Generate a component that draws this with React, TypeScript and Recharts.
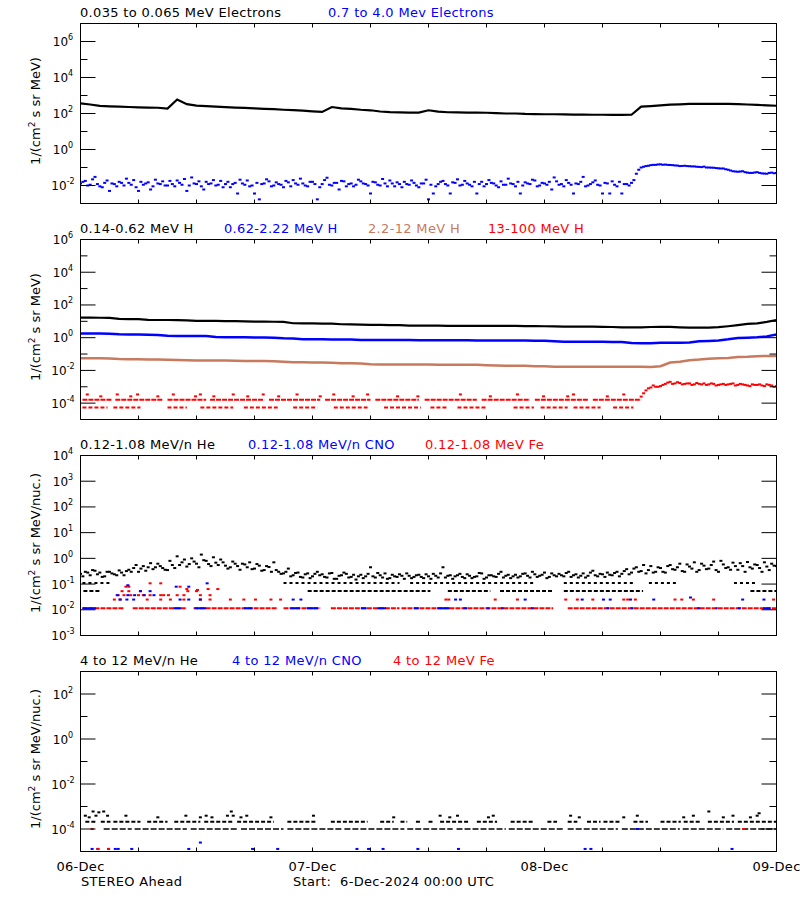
import { ComposedChart, Line, Scatter, XAxis, YAxis } from "recharts"

const FONT = "'DejaVu Sans', sans-serif"
const BLACK = "#000000"
const BLUE = "#0000ff"
const RED = "#ff0000"
const SIENNA = "#c87a5e"

// time axis in hours after 6-Dec-2024 00:00 UTC
const hourTicks = [0, 6, 12, 18, 24, 30, 36, 42, 48, 54, 60, 66, 72]
const dateLabels = ["06-Dec", "07-Dec", "08-Dec", "09-Dec"]

// ---- panel 1: electrons ----
// 0.035-0.065 MeV, hourly
const eLow = [
  363, 316, 263, 251, 240, 229, 219, 214, 209, 186,
  603, 331, 275, 257, 240, 224, 214, 204, 195, 182,
  174, 162, 155, 145, 132, 123, 229, 195, 182, 162,
  151, 129, 120, 115, 112, 112, 151, 126, 117, 115,
  112, 112, 110, 105, 100, 100, 95, 93, 91, 91,
  89, 87, 87, 85, 85, 83, 83, 85, 240, 257,
  282, 309, 324, 339, 339, 339, 339, 339, 331, 316,
  302, 282, 269,
]
// 0.7-4.0 MeV, every 30 min from 00:00
const eHigh = [
  0.013, 0.018, 0.011, 0.03, 0.009, 0.014, 0.005, 0.012, 0.016, 0.01,
  0.014, 0.02, 0.005, 0.011, 0.015, 0.009, 0.013, 0.017, 0.01, 0.012,
  0.019, 0.011, 0.005, 0.028, 0.012, 0.009, 0.016, 0.013, 0.01, 0.018,
  0.012, 0.008, 0.014, 0.021, 0.011, 0.009, 0.0036, 0.0017, 0.013, 0.017,
  0.01, 0.012, 0.008, 0.015, 0.02, 0.011, 0.013, 0.009, 0.016, 0.0017,
  0.012, 0.027, 0.01, 0.014, 0.018, 0.009, 0.013, 0.011, 0.017, 0.012,
  0.0036, 0.015, 0.01, 0.013, 0.019, 0.009, 0.012, 0.016, 0.011, 0.014,
  0.008, 0.013, 0.0017, 0.0036, 0.012, 0.018, 0.01, 0.015, 0.022, 0.011,
  0.013, 0.009, 0.0036, 0.016, 0.012, 0.014, 0.01, 0.017, 0.011, 0.013,
  0.009, 0.0036, 0.015, 0.012, 0.019, 0.01, 0.013, 0.016, 0.028, 0.011,
  0.009, 0.014, 0.0036, 0.012, 0.03, 0.01, 0.015, 0.011, 0.0036, 0.013,
  0.017, 0.009, 0.0036, 0.012,
  0.014, 0.045, 0.1, 0.12, 0.135, 0.14, 0.15, 0.145, 0.138, 0.13,
  0.12, 0.125, 0.118, 0.115, 0.108, 0.112, 0.1, 0.097, 0.09, 0.088,
  0.075, 0.062, 0.058, 0.062, 0.052, 0.05, 0.055, 0.047, 0.045, 0.052,
  0.05,
]
// 0.7-4.0 MeV, every 30 min from 00:15
const eHigh2 = [
  0.016, 0.01, 0.022, 0.012, 0.008, 0.019, 0.013, 0.009, 0.014, 0.024,
  0.011, 0.008, 0.016, 0.013, 0.006, 0.021, 0.012, 0.01, 0.018, 0.009,
  0.014, 0.023, 0.01, 0.013, 0.017, 0.006, 0.012, 0.02, 0.011, 0.008,
  0.016, 0.012, 0.0036, 0.013, 0.019, 0.01, 0.014, 0.012, 0.022, 0.009,
  0.015, 0.011, 0.018, 0.009, 0.013, 0.024, 0.01, 0.016, 0.012, 0.008,
  0.02, 0.011, 0.014, 0.006, 0.017, 0.012, 0.009, 0.021, 0.013, 0.01,
  0.016, 0.011, 0.023, 0.009, 0.013, 0.015, 0.008, 0.012, 0.019, 0.01,
  0.013, 0.021, 0.011, 0.009, 0.016, 0.012, 0.0036, 0.014, 0.01, 0.018,
  0.011, 0.016, 0.012, 0.009, 0.02, 0.013, 0.008, 0.011, 0.024, 0.012,
  0.016, 0.01, 0.013, 0.021, 0.009, 0.014, 0.011, 0.006, 0.017, 0.012,
  0.02, 0.011, 0.013, 0.016, 0.009, 0.012, 0.019, 0.01, 0.014, 0.0036,
  0.011, 0.016, 0.012, 0.01,
  0.02, 0.075, 0.11, 0.125, 0.14, 0.148, 0.142, 0.14, 0.135, 0.128,
  0.122, 0.12, 0.115, 0.11, 0.105, 0.1, 0.098, 0.093, 0.088, 0.08,
  0.068, 0.06, 0.06, 0.055, 0.05, 0.053, 0.05, 0.046, 0.05, 0.048,
]

// ---- panel 2: protons ----
const hLow = [
  16.7, 16.7, 16.5, 16.2, 14, 13.8, 13.5, 12.2, 12, 12,
  11.8, 11.5, 10.6, 10.5, 10.5, 10.3, 10.2, 9.8, 9.5, 9.5,
  9.4, 9.2, 7.6, 7.5, 7.4, 7.3, 7.2, 6.6, 6.5, 6.2,
  6.0, 6.0, 5.9, 5.8, 5.5, 5.4, 5.4, 5.4, 5.3, 5.3,
  5.3, 5.3, 5.2, 5.2, 5.2, 5.2, 5.1, 5.1, 5.0, 4.9,
  4.8, 4.7, 4.7, 4.7, 4.6, 4.5, 4.3, 4.3, 4.3, 4.5,
  4.6, 4.6, 4.3, 4.1, 4.1, 4.1, 4.4, 5.0, 5.8, 6.9,
  7.5, 9.2, 12,
]
const hMid = [
  1.8, 1.8, 1.8, 1.75, 1.6, 1.55, 1.55, 1.5, 1.45, 1.3,
  1.27, 1.27, 1.25, 1.25, 1.1, 1.05, 1.05, 1.05, 1.03, 1.02,
  1.0, 0.92, 0.9, 0.8, 0.8, 0.79, 0.78, 0.78, 0.77, 0.73,
  0.72, 0.72, 0.72, 0.72, 0.71, 0.7, 0.69, 0.69, 0.69, 0.69,
  0.69, 0.68, 0.68, 0.68, 0.68, 0.67, 0.67, 0.66, 0.65, 0.6,
  0.57, 0.57, 0.57, 0.56, 0.56, 0.55, 0.55, 0.47, 0.45, 0.46,
  0.49, 0.49, 0.49, 0.5, 0.6, 0.63, 0.68, 0.79, 0.95, 1.0,
  1.05, 1.2, 1.55,
]
const hHigh = [
  0.056, 0.055, 0.055, 0.054, 0.05, 0.048, 0.048, 0.047, 0.047, 0.045,
  0.043, 0.042, 0.041, 0.041, 0.04, 0.04, 0.039, 0.037, 0.037, 0.037,
  0.036, 0.034, 0.031, 0.031, 0.03, 0.03, 0.029, 0.027, 0.027, 0.026,
  0.024, 0.023, 0.023, 0.023, 0.023, 0.023, 0.023, 0.022, 0.022, 0.022,
  0.022, 0.022, 0.021, 0.02, 0.019, 0.019, 0.019, 0.018, 0.018, 0.017,
  0.017, 0.017, 0.017, 0.017, 0.017, 0.017, 0.017, 0.017, 0.017, 0.016,
  0.018, 0.03, 0.034, 0.042, 0.046, 0.052, 0.055, 0.058, 0.065, 0.068,
  0.074, 0.076, 0.076,
]
// 13-100 MeV: quantized count levels before the rise, then 30-min values
const hVhMidLevel = 1.6e-4
const hVhMidSegs = [[0.2, 3.2], [3.6, 8.5], [9, 13], [13.4, 19], [19.5, 24.8], [25.3, 30], [30.5, 35], [35.6, 41], [41.5, 46.5], [47, 52.5], [53, 58]]
const hVhLowLevel = 5.5e-5
const hVhLowSegs = [[0.2, 2.8], [3.4, 6.2], [9, 11], [12.4, 15.8], [16.9, 20.4], [22, 24.5], [26.2, 29.7], [31.4, 35.2], [36.2, 38], [39, 42.1], [44.8, 46.9], [47.6, 50.4], [51, 53.8], [55.1, 57.2]]
const hVhUpper = [
  [0.7, 3.4e-4], [2.1, 2.6e-4], [3.8, 3.4e-4], [5.2, 2.6e-4], [5.9, 3.4e-4], [8, 2.6e-4], [9.6, 3.4e-4], [11.9, 2.6e-4],
  [12.4, 3.4e-4], [13.8, 2.6e-4], [15.8, 3.4e-4], [17.3, 2.6e-4], [18.9, 3.4e-4], [20.5, 2.6e-4], [22.4, 3.4e-4], [24.8, 2.6e-4],
  [26.2, 3.4e-4], [28.2, 2.6e-4], [29.7, 3.4e-4], [32.8, 2.6e-4], [34.9, 2.6e-4], [39.3, 3.4e-4], [42.4, 2.6e-4], [45.2, 3.4e-4],
  [47.9, 2.6e-4], [50.4, 2.6e-4], [51, 3.4e-4], [54.5, 2.6e-4], [56.2, 3.4e-4],
]
const hVhPost = [
  2.5e-4, 6e-4, 9e-4, 1.0e-3, 1.1e-3, 1.5e-3, 2.0e-3, 1.6e-3, 1.7e-3, 1.5e-3,
  1.6e-3, 1.4e-3, 1.5e-3, 1.6e-3, 1.4e-3, 1.5e-3, 1.3e-3, 1.5e-3, 1.4e-3, 1.6e-3,
  1.3e-3, 1.4e-3, 1.2e-3, 1.4e-3, 1.3e-3, 1.2e-3, 1.4e-3, 1.2e-3, 1.1e-3,
]
const hVhPost2 = [
  4e-4, 8e-4, 1.2e-3, 1.0e-3, 1.3e-3, 1.8e-3, 1.5e-3, 1.9e-3, 1.4e-3, 1.6e-3,
  1.3e-3, 1.7e-3, 1.4e-3, 1.3e-3, 1.6e-3, 1.2e-3, 1.4e-3, 1.3e-3, 1.5e-3, 1.2e-3,
  1.5e-3, 1.3e-3, 1.1e-3, 1.3e-3, 1.4e-3, 1.1e-3, 1.3e-3, 1.0e-3,
]

// ---- panel 3: 0.12-1.08 MeV/n heavy ions ----
const heBand = [
  0.25, 0.3, 0.22, 0.33, 0.28, 0.2, 0.3, 0.24, 0.34, 0.22,
  0.36, 0.42, 0.3, 0.5, 0.45, 0.38, 0.62, 0.42, 0.35, 0.55,
  1.2, 0.7, 0.48, 1.0, 0.62, 1.4, 0.8, 0.5, 0.68, 0.9,
  0.52, 0.45, 0.62, 0.36, 0.58, 0.7, 0.4, 0.52, 0.35, 0.46,
  0.7, 0.3, 0.26, 0.4, 0.22, 0.28, 0.18, 0.26, 0.2, 0.3,
  0.24, 0.18, 0.27, 0.16, 0.22, 0.25, 0.19, 0.15, 0.23, 0.2,
  0.45, 0.18, 0.22, 0.26, 0.17, 0.2, 0.24, 0.16, 0.21, 0.19,
  0.23, 0.17, 0.2, 0.25, 0.18, 0.45, 0.21, 0.16, 0.22, 0.19,
  0.24, 0.17, 0.2, 0.26, 0.18, 0.22, 0.19, 0.3, 0.21, 0.17,
  0.23, 0.2, 0.26, 0.18, 0.24, 0.21, 0.28, 0.19, 0.22, 0.25,
  0.2, 0.3, 0.22, 0.18, 0.26, 0.21, 0.33, 0.2, 0.24, 0.28,
  0.22, 0.3, 0.25, 0.38, 0.28, 0.45, 0.32, 0.26, 0.5, 0.3,
  0.42, 0.28, 0.55, 0.36, 0.62, 0.3, 0.48, 0.7, 0.35, 0.52,
  0.4, 0.75, 0.3, 0.58, 0.45, 0.68, 0.36, 0.5, 0.72, 0.4,
  0.55, 0.3, 0.48, 0.62, 0.5,
]
const heBand2 = [
  0.2, 0.28, 0.35, 0.24, 0.19, 0.3, 0.26, 0.22, 0.28, 0.32,
  0.3, 0.55, 0.4, 0.33, 0.65, 0.45, 0.5, 0.36, 0.8, 0.42,
  0.55, 0.9, 0.6, 0.75, 0.45, 0.85, 0.6, 1.1, 0.55, 0.7,
  0.4, 0.75, 0.5, 0.62, 0.45, 0.38, 0.6, 0.33, 0.5, 0.3,
  0.35, 0.25, 0.3, 0.2, 0.27, 0.19, 0.24, 0.17, 0.25, 0.22,
  0.19, 0.26, 0.16, 0.21, 0.28, 0.18, 0.23, 0.2, 0.17, 0.25,
  0.2, 0.27, 0.18, 0.16, 0.23, 0.19, 0.21, 0.26, 0.17, 0.22,
  0.19, 0.24, 0.16, 0.21, 0.26, 0.18, 0.22, 0.2, 0.25, 0.17,
  0.21, 0.19, 0.27, 0.16, 0.22, 0.2, 0.25, 0.18, 0.23, 0.2,
  0.18, 0.25, 0.21, 0.3, 0.19, 0.23, 0.17, 0.26, 0.2, 0.22,
  0.27, 0.19, 0.24, 0.21, 0.18, 0.28, 0.22, 0.25, 0.19, 0.23,
  0.27, 0.2, 0.32, 0.24, 0.4, 0.3, 0.55, 0.35, 0.28, 0.45,
  0.3, 0.5, 0.38, 0.45, 0.32, 0.58, 0.4, 0.3, 0.62, 0.38,
  0.55, 0.35, 0.8, 0.42, 0.36, 0.5, 0.65, 0.3, 0.45, 0.58,
  0.42, 0.7, 0.35, 0.52,
]
const heLevelA = 0.11
const heSegsA = [[0.2, 3.1], [21, 33], [34.1, 46.9], [50, 57.2], [58.8, 61.7], [67.6, 70]]
const heLevelB = 0.054
const heSegsB = [[0.3, 2.1], [23.5, 36.2], [38, 42.4], [43.4, 48.9], [50, 58.2], [69.3, 72]]
const ionFloor = 0.0115
const feFloorSegs = [[0.2, 4.5], [5.4, 11], [11.7, 20.4], [21, 24.8], [25.9, 33], [33.2, 48.9], [50.4, 72]]
const cnoFloorSegs = [
  [0.2, 1.6], [9.6, 10.4], [11.8, 13], [16.9, 17.8], [21.7, 22.7], [23.4, 24.6], [29, 29.6], [30.7, 31.6], [34.5, 35], [36.9, 38.2],
  [39.6, 40], [42, 42.3], [43.5, 43.8], [46.6, 46.9], [54.4, 54.7], [56.9, 57.2], [63.8, 64.1], [65.7, 65.9], [68, 68.3], [70.6, 71.4],
]
const feLowPts = [
  [3.5, 0.025], [4.1, 0.025], [6.9, 0.025], [8.3, 0.025], [9.3, 0.025], [10.7, 0.025], [12.4, 0.025], [13.4, 0.025], [15.5, 0.025],
  [16.9, 0.025], [18.1, 0.025], [19.7, 0.025], [20.7, 0.025], [37.8, 0.025], [38.1, 0.025], [42.9, 0.025], [45.2, 0.025], [50.2, 0.025],
  [51.4, 0.025], [53, 0.025], [56.2, 0.025], [56.6, 0.025], [57.4, 0.025], [61.5, 0.025], [62.2, 0.025], [63.4, 0.025], [65.5, 0.025],
  [71.7, 0.025], [3.9, 0.037], [4.5, 0.037], [5.2, 0.037], [6, 0.037], [6.5, 0.037], [7.2, 0.037], [8.3, 0.037], [8.6, 0.037],
  [9.1, 0.037], [10, 0.037], [10.7, 0.037], [12.4, 0.037], [13.4, 0.037], [4.3, 0.053], [5, 0.053], [6.2, 0.053], [11.1, 0.053],
  [12, 0.053], [7.2, 0.107], [8.3, 0.107], [10.3, 0.079], [11, 0.064], [12.1, 0.059], [13.2, 0.064], [14.2, 0.064], [4.7, 0.079], [5, 0.079],
]
const cnoLowPts = [
  [4.1, 0.025], [4.8, 0.025], [5.5, 0.025], [10.3, 0.025], [11.2, 0.025], [12.4, 0.025], [22, 0.025], [22.8, 0.025], [38.8, 0.025],
  [39.3, 0.025], [46, 0.025], [51.9, 0.025], [54.1, 0.025], [54.8, 0.025], [56.9, 0.025], [59.3, 0.025], [63.1, 0.03], [68.5, 0.025],
  [70.7, 0.025], [3.8, 0.037], [4.9, 0.037], [5.6, 0.037], [6.6, 0.037], [7.6, 0.037], [6.2, 0.053], [7.2, 0.053],
  [4.9, 0.09], [9.9, 0.079], [11.2, 0.079], [13.1, 0.107],
]

// ---- panel 4: 4-12 MeV/n heavy ions ----
const he4LevelA = 1e-4
const he4SegsA = [[2.4, 5.3], [5.6, 11], [11.4, 16.3], [16.6, 21], [21.4, 27], [27.3, 33.5], [33.8, 38.5], [38.9, 44], [44.3, 50], [50.4, 55.6], [56, 62], [62.3, 66.5], [66.8, 72]]
const he4LevelB = 2.1e-4
const he4SegsB = [
  [0.5, 1.7], [2.1, 3.1], [3.4, 6.2], [6.9, 9], [9.7, 12.4], [12.8, 15.9], [16.2, 20], [21.4, 24.5], [25.9, 29.7], [31, 32.4],
  [33.1, 33.8], [34.7, 35.2], [36, 36.5], [37.2, 40.3], [41, 43.1], [44.5, 46.9], [48.3, 49.3], [50.4, 51.4], [52.4, 53.8],
  [54.1, 55.9], [57.2, 58.7], [60, 62.1], [62.4, 64.1], [64.9, 67.6], [68, 72],
]
const he4Pts = [
  [0.5, 3.9e-4], [0.9, 3.3e-4], [1.3, 6e-4], [1.6, 3.9e-4], [1.9, 5.5e-4], [2.4, 6e-4], [2.8, 3.9e-4], [4.7, 3.9e-4], [8, 3.3e-4],
  [10.9, 3.9e-4], [12.4, 3.3e-4], [13, 3.9e-4], [13.6, 3.3e-4], [15.2, 3.9e-4], [15.6, 6e-4], [15.8, 3.9e-4], [16.6, 3.3e-4],
  [17.2, 3.9e-4], [19.7, 3.3e-4], [24.1, 3.9e-4], [32.4, 3.3e-4], [37.2, 3.9e-4], [38.2, 3.3e-4], [39, 3.9e-4], [42.2, 3.3e-4],
  [42.7, 3.9e-4], [50.7, 3.9e-4], [51.6, 3.3e-4], [56.2, 3.3e-4], [57.6, 3.9e-4], [62.4, 3.3e-4], [63.4, 3.9e-4], [65, 6e-4],
  [66.5, 3.3e-4], [67.5, 3.9e-4], [69.3, 3.3e-4], [70, 3.9e-4], [70.2, 5e-4],
]
const cno4Pts = [
  [1.2, 1.3e-5], [1.8, 1.3e-5], [2.9, 1.3e-5], [3.6, 1.3e-5], [3.9, 1.3e-5], [5.3, 1.3e-5], [11.2, 1.3e-5], [12.4, 2.5e-5],
  [17.8, 1.3e-5], [20.4, 1.3e-5], [28.6, 1.3e-5], [29.8, 1.3e-5], [31.3, 1.3e-5], [34.9, 1.3e-5], [39.1, 1.3e-5], [52.2, 1.3e-5],
  [52.8, 1.3e-5], [57.6, 1e-4], [67.4, 1.3e-5],
]
const fe4Pts = [[1.2, 1e-4], [1.8, 1.3e-5], [2.9, 1.3e-5], [68.6, 1e-4]]

// ---- text ----
const panelTitles = [
  [["0.035 to 0.065 MeV Electrons", BLACK, 80], ["0.7 to 4.0 Mev Electrons", BLUE, 328]],
  [["0.14-0.62 MeV H", BLACK, 80], ["0.62-2.22 MeV H", BLUE, 224], ["2.2-12 MeV H", SIENNA, 368], ["13-100 MeV H", RED, 488]],
  [["0.12-1.08 MeV/n He", BLACK, 80], ["0.12-1.08 MeV/n CNO", BLUE, 248], ["0.12-1.08 MeV Fe", RED, 425]],
  [["4 to 12 MeV/n He", BLACK, 80], ["4 to 12 MeV/n CNO", BLUE, 232], ["4 to 12 MeV Fe", RED, 393]],
] as [string, string, number][][]
const yUnits = ["MeV)", "MeV)", "MeV/nuc.)", "MeV/nuc.)"]

// layout
const PANEL_TOPS = [23, 239, 455, 671]
const PLOT_H = 180
const PAD = 14
const PLOT_LEFT = 80.5
const PLOT_RIGHT = 776.5

function series(values: number[], step: number, start = 0) {
  return values.map((v, i) => ({ t: start + i * step, v })).filter((d) => d.v != null)
}
function segments(segs: number[][], level: number) {
  const out: { t: number; v: number | null }[] = []
  segs.forEach(([a, b]) => {
    out.push({ t: a, v: level }, { t: b, v: level }, { t: b, v: null })
  })
  return out
}
function points(pairs: number[][]) {
  return pairs.map(([t, v]) => ({ t, v }))
}

const dot = (color: string, w = 3, h = 2) => (p: any) =>
  p.cx == null ? <g /> : <rect x={p.cx - w / 2} y={p.cy - h / 2} width={w} height={h} fill={color} />

const curve = (key: string, data: any[], color: string, width = 2.5, dash?: string) => (
  <Line key={key} data={data} dataKey="v" stroke={color} strokeWidth={width} strokeDasharray={dash} dot={false}
    activeDot={false} isAnimationActive={false} connectNulls={false} />
)
const cloud = (key: string, data: any[], color: string, w = 3, h = 2) => (
  <Scatter key={key} data={data} dataKey="v" shape={dot(color, w, h)} isAnimationActive={false} />
)

function Panel({ top, expMin, expMax, labelAll = false, dates = false, children }: any) {
  const bottomPad = dates ? 30 : 12
  const height = PAD + PLOT_H + bottomPad
  const plotTop = PAD + 0.5
  const plotBottom = plotTop + PLOT_H
  const yTicks: number[] = []
  for (let e = expMin; e <= expMax; e++) yTicks.push(Math.pow(10, e))
  const domain = [Math.pow(10, expMin), Math.pow(10, expMax)]

  const leftTick = (p: any) => {
    const e = Math.round(Math.log10(p.payload.value))
    const major = labelAll || e % 2 === 0
    return (
      <g>
        <line x1={PLOT_LEFT} x2={PLOT_LEFT + (major ? 15 : 7)} y1={p.y} y2={p.y} stroke={BLACK} />
        {major && (
          <text x={63} y={p.y + 4.5} textAnchor="middle" fontFamily={FONT} fontSize={12} fill={BLACK}>
            10<tspan dy={-6} fontSize={8}>{String(e)}</tspan>
          </text>
        )}
      </g>
    )
  }
  const rightTick = (p: any) => {
    const e = Math.round(Math.log10(p.payload.value))
    const major = labelAll || e % 2 === 0
    return <line x1={PLOT_RIGHT} x2={PLOT_RIGHT - (major ? 15 : 7)} y1={p.y} y2={p.y} stroke={BLACK} />
  }
  const bottomTick = (p: any) => {
    const v = p.payload.value
    return (
      <g>
        <line x1={p.x} x2={p.x} y1={plotBottom} y2={plotBottom - 4} stroke={BLACK} />
        {dates && v % 24 === 0 && (
          <text x={p.x} y={plotBottom + 19} textAnchor="middle" fontFamily={FONT} fontSize={13} fill={BLACK}
            letterSpacing={0.3}>
            {dateLabels[v / 24]}
          </text>
        )}
      </g>
    )
  }
  const topTick = (p: any) => <line x1={p.x} x2={p.x} y1={plotTop} y2={plotTop + 4} stroke={BLACK} />

  return (
    <div style={{ position: "absolute", left: 0, top: top - PAD }}>
      <ComposedChart width={800} height={height} margin={{ top: 0.5, right: 0, bottom: 0, left: PLOT_LEFT - 60 }}>
        <XAxis dataKey="t" type="number" domain={[0, 72]} allowDataOverflow ticks={hourTicks} interval={0}
          height={bottomPad - 0.5} tickLine={false} axisLine={{ stroke: BLACK }} tick={bottomTick} />
        <XAxis xAxisId="top" orientation="top" dataKey="t" type="number" domain={[0, 72]} allowDataOverflow
          ticks={hourTicks} interval={0} height={PAD} tickLine={false} axisLine={{ stroke: BLACK }} tick={topTick} />
        <YAxis scale="log" type="number" domain={domain} allowDataOverflow ticks={yTicks} interval={0} width={60}
          tickLine={false} axisLine={{ stroke: BLACK }} tick={leftTick} />
        <YAxis yAxisId="right" orientation="right" scale="log" type="number" domain={domain} allowDataOverflow
          ticks={yTicks} interval={0} width={800 - PLOT_RIGHT} tickLine={false} axisLine={{ stroke: BLACK }}
          tick={rightTick} />
        {children}
      </ComposedChart>
    </div>
  )
}

export default function App() {
  return (
    <div style={{ position: "absolute", left: 0, top: 0, width: 800, height: 900, background: "#fff" }}>
      <Panel top={PANEL_TOPS[0]} expMin={-3} expMax={7}>
        {curve("eLow", series(eLow, 1), BLACK, 2.2)}
        {cloud("eHigh", series(eHigh, 0.5), BLUE)}
        {cloud("eHigh2", series(eHigh2, 0.5, 0.25), BLUE)}
      </Panel>
      <Panel top={PANEL_TOPS[1]} expMin={-5} expMax={6}>
        {curve("hLow", series(hLow, 1), BLACK, 2.2)}
        {curve("hMid", series(hMid, 1), BLUE, 2.5)}
        {curve("hHigh", series(hHigh, 1), SIENNA, 2.5)}
        {curve("hVhMid", segments(hVhMidSegs, hVhMidLevel), RED, 2, "5 1")}
        {curve("hVhLow", segments(hVhLowSegs, hVhLowLevel), RED, 2, "4 2")}
        {cloud("hVhUp", points(hVhUpper), RED)}
        {cloud("hVhPost", series(hVhPost, 0.5, 58), RED)}
        {cloud("hVhPost2", series(hVhPost2, 0.5, 58.25), RED)}
      </Panel>
      <Panel top={PANEL_TOPS[2]} expMin={-3} expMax={4} labelAll>
        {cloud("heBand", series(heBand, 0.5), BLACK)}
        {cloud("heBand2", series(heBand2, 0.5, 0.25), BLACK)}
        {curve("heA", segments(heSegsA, heLevelA), BLACK, 2, "3 3")}
        {curve("heB", segments(heSegsB, heLevelB), BLACK, 2, "4 2")}
        {curve("feFloor", segments(feFloorSegs, ionFloor), RED, 2, "5 1")}
        {curve("cnoFloor", segments(cnoFloorSegs, ionFloor), BLUE, 2)}
        {cloud("feLow", points(feLowPts), RED)}
        {cloud("cnoLow", points(cnoLowPts), BLUE)}
      </Panel>
      <Panel top={PANEL_TOPS[3]} expMin={-5} expMax={3} dates>
        {curve("he4A", segments(he4SegsA, he4LevelA), BLACK, 1.5, "6 2")}
        {curve("he4B", segments(he4SegsB, he4LevelB), BLACK, 2, "4 2")}
        {cloud("he4", points(he4Pts), BLACK)}
        {cloud("cno4", points(cno4Pts), BLUE)}
        {cloud("fe4", points(fe4Pts), RED)}
      </Panel>

      <svg width={800} height={900} style={{ position: "absolute", left: 0, top: 0, pointerEvents: "none" }}
        fontFamily={FONT} fontSize={13}>
        {panelTitles.map((items, i) =>
          items.map(([label, color, x], j) => (
            <text key={`${i}-${j}`} x={x} y={PANEL_TOPS[i] - 6} fill={color} letterSpacing={0.33}>{label}</text>
          ))
        )}
        {yUnits.map((u, i) => (
          <text key={`y${i}`} transform={`translate(40, ${PANEL_TOPS[i] + 88}) rotate(-90)`} textAnchor="middle"
            fill={BLACK} style={{ whiteSpace: "pre" }}>
            1/(cm<tspan dy={-5} fontSize={9}>2</tspan><tspan dy={5}>{` s sr ${u}`}</tspan>
          </text>
        ))}
        <text x={81} y={886} fill={BLACK} letterSpacing={0.33}>STEREO Ahead</text>
        <text x={293} y={886} fill={BLACK} letterSpacing={0.33} style={{ whiteSpace: "pre" }}>
          Start:  6-Dec-2024 00:00 UTC
        </text>
      </svg>
    </div>
  )
}
